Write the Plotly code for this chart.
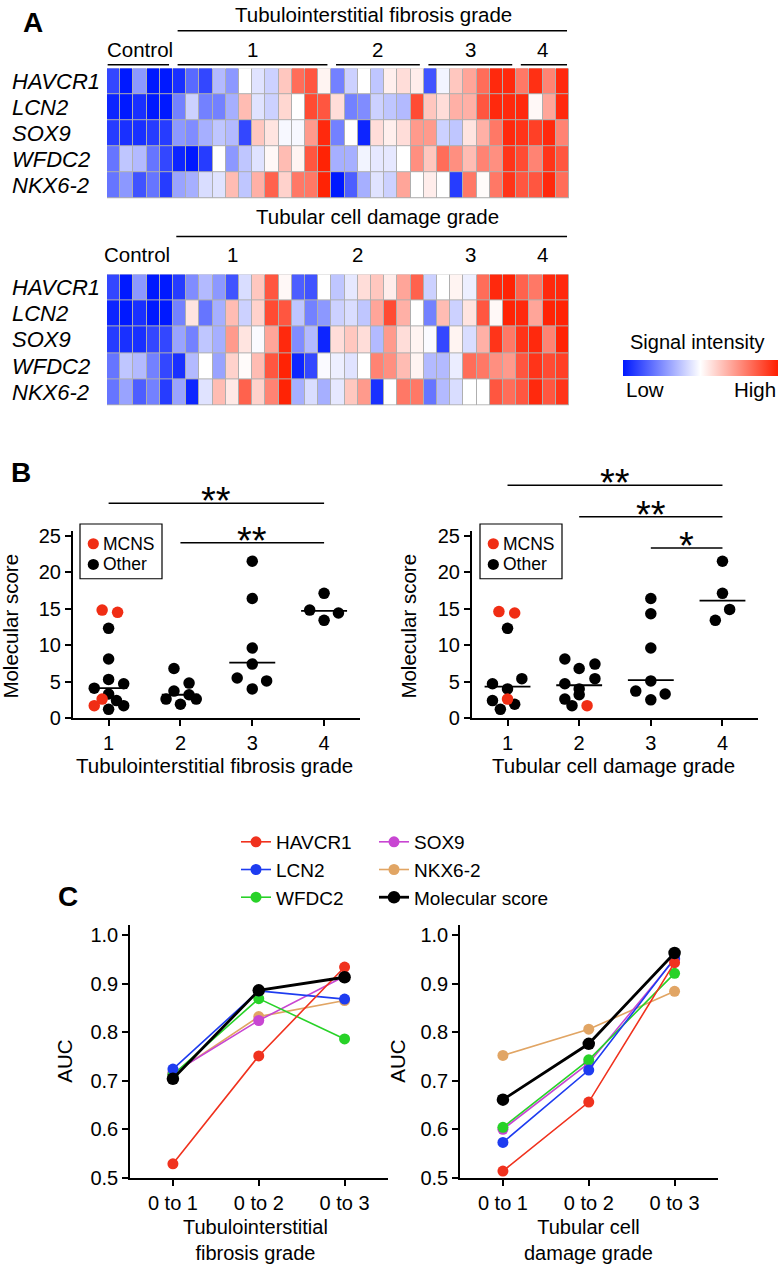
import plotly.graph_objects as go

W, H = 779, 1275
FONT = "Liberation Sans, Arial, sans-serif"

def px(x):
    return x / W

def py(y):
    return 1 - y / H

# ---------------- Panel A data (signal intensity, -1 low .. 1 high) ----------------
genes = ["HAVCR1", "LCN2", "SOX9", "WFDC2", "NKX6-2"]

tif_group_labels = ["Control", "1", "2", "3", "4"]
tif_group_sizes = [5, 12, 7, 7, 4]
tif_HAVCR1 = [-0.8, -1, -0.45, -1, -1, -0.9, -0.65, -0.8, -0.3, -0.45, 0, -0.12, -0.2, 0.25, 0.65, 0.75, 0.05,
              -0.55, -0.2, 0, -0.25, 0.07, 0.15, 0.08, -0.75, -0.05, 0.25, 0.4, 0.65, 0.95, 0.95, 0.6, 0.92, 0.55, 0.95]
tif_LCN2 = [-0.95, -1, -0.9, -1, -1, -0.55, -0.2, -0.55, -0.55, -0.35, 0.3, -0.12, -0.2, 0.18, 0, 0.8, 0.75,
            0.15, -0.55, -0.5, -0.2, -0.25, -0.3, 0.8, 0.25, 0.15, 0.35, 0.35, 0.75, 0.95, 0.95, 0.95, 0.03, 0.4, 0.95]
tif_SOX9 = [-0.85, -0.9, -0.9, -0.85, -0.85, -0.45, -0.5, -0.35, -0.25, -0.3, -0.8, 0.25, 0.12, -0.03, -0.03, 0.45, 0.95,
            -0.55, 0, -0.95, 0.15, 0.07, 0.15, 0.45, 0.45, -0.2, -0.25, 0.12, 0.35, 0.6, 0.95, 0.9, 0.85, 0.95, 0.55]
tif_WFDC2 = [-0.6, -0.25, -0.3, -0.6, -0.8, -0.95, -1, -0.85, 0, -0.45, -0.25, -0.12, 0.03, 0.3, 0.05, 0.75, 0.98,
             -0.35, -0.35, -0.05, -0.1, -0.1, 0, 0.5, 0.25, 0.65, 0.5, 0.3, 0.55, 0.5, 0.9, 0.8, 0.55, 0.9, 0.75]
tif_NKX62 = [-0.6, -0.45, -0.75, -0.6, -0.85, -0.4, -0.35, -0.15, -0.12, 0.3, -0.25, 0.35, 0.7, 0.2, 0.6, 0.6, 0.98,
             -1, -0.7, -0.35, -0.12, -0.2, 0.4, 0, 0.08, 0, -0.85, 0.6, 0.02, 0.6, 0.9, 0.75, 0.75, 0.95, 0.65]

tcd_group_labels = ["Control", "1", "2", "3", "4"]
tcd_group_sizes = [5, 9, 10, 7, 4]
tcd_HAVCR1 = [-0.8, -1, -0.45, -1, -1, -0.85, -0.5, -0.3, -0.45, -0.75, -0.15, 0.25, 0.75, 0.03, -0.7, -0.75, 0, -0.25,
              -0.1, 0.15, 0.25, 0.08, 0.4, 0.7, -0.2, 0, 0.05, -0.07, 0.65, 0.95, 0.98, 0.7, 0.6, 0.95, 0.95]
tcd_LCN2 = [-0.95, -1, -0.9, -1, -1, -0.55, 0.12, -0.6, -0.35, 0.3, -0.2, 0.2, 0.8, 0.75, -0.25, -0.55, -0.45, -0.2,
            -0.15, -0.25, 0.4, 0.8, 0.35, 0, -0.55, 0.3, -0.2, 0.12, 0.75, 0.03, 0.98, 0.95, 0.4, 0.98, 0.98]
tcd_SOX9 = [-0.85, -0.9, -0.9, -0.8, -0.8, -0.4, -0.55, -0.25, -0.35, 0.45, 0.12, -0.02, 0.4, 0.95, -0.5, -0.3, -0.95, 0.15,
            0.25, 0.15, -0.3, 0.45, 0.15, 0.05, -0.02, -0.8, 0.05, -0.15, 0.35, 0.9, 0.6, 0.9, 0.95, 0.55, 0.98]
tcd_WFDC2 = [-0.6, -0.25, -0.3, -0.55, -0.8, -0.9, -0.3, 0, -0.4, 0.2, 0.02, 0.3, 0.75, 0.98, -0.95, -0.8, -0.02, -0.07,
             -0.12, 0, 0.55, 0.5, 0.3, 0.05, -0.3, -0.3, -0.08, 0.65, 0.6, 0.5, 0.45, 0.75, 0.9, 0.8, 0.85]
tcd_NKX62 = [-0.6, -0.4, -0.7, -0.55, -0.85, -0.4, -0.95, -0.12, 0.3, 0.1, 0.7, 0.2, 0.55, 0.98, -0.35, -0.15, -0.35, -0.1,
             0.25, 0.45, -0.9, 0, 0.6, 0.6, -0.6, -0.3, -0.15, 0, 0, 0.75, 0.65, 0.75, 0.95, 0.75, 0.9]

# ---------------- Panel B data (molecular score) ----------------
grades = [1, 2, 3, 4]
tif_score = [
    [14.8, 14.5, 12.3, 8.1, 5.3, 4.7, 4.1, 3.3, 2.6, 2.4, 1.7, 1.7, 1.2],
    [6.8, 4.8, 3.7, 3.2, 2.6, 2.6, 1.9],
    [21.5, 16.4, 9.6, 7.4, 5.5, 5.1, 4.0],
    [17.1, 14.8, 14.4, 13.4],
]
tif_mcns = [
    [1, 1, 0, 0, 0, 0, 0, 0, 1, 0, 1, 0, 0],
    [0, 0, 0, 0, 0, 0, 0],
    [0, 0, 0, 0, 0, 0, 0],
    [0, 0, 0, 0],
]
tif_median = [4.1, 3.2, 7.6, 14.7]

tcd_score = [
    [14.6, 14.4, 12.3, 5.4, 4.7, 4.0, 2.6, 2.4, 1.9, 1.2],
    [8.1, 7.4, 6.8, 5.4, 4.7, 4.0, 3.2, 2.6, 1.7, 1.7],
    [16.4, 14.3, 9.6, 5.1, 3.7, 3.3, 2.5],
    [21.5, 17.1, 14.9, 13.4],
]
tcd_mcns = [
    [1, 1, 0, 0, 0, 0, 1, 0, 0, 0],
    [0, 0, 0, 0, 0, 0, 0, 0, 0, 1],
    [0, 0, 0, 0, 0, 0, 0],
    [0, 0, 0, 0],
]
tcd_median = [4.3, 4.5, 5.2, 16.1]

tif_comparisons = [(1, 4, "**"), (2, 4, "**")]
tcd_comparisons = [(1, 4, "**"), (2, 4, "**"), (3, 4, "*")]

# ---------------- Panel C data (AUC) ----------------
auc_cats = ["0 to 1", "0 to 2", "0 to 3"]
auc_names = ["HAVCR1", "LCN2", "WFDC2", "SOX9", "NKX6-2", "Molecular score"]
tif_auc_HAVCR1 = [0.529, 0.751, 0.934]
tif_auc_LCN2 = [0.724, 0.885, 0.868]
tif_auc_WFDC2 = [0.712, 0.869, 0.786]
tif_auc_SOX9 = [0.716, 0.824, 0.915]
tif_auc_NKX62 = [0.714, 0.832, 0.865]
tif_auc_score = [0.704, 0.886, 0.913]
tcd_auc_HAVCR1 = [0.514, 0.656, 0.943]
tcd_auc_LCN2 = [0.573, 0.722, 0.952]
tcd_auc_WFDC2 = [0.604, 0.743, 0.921]
tcd_auc_SOX9 = [0.600, 0.736, 0.950]
tcd_auc_NKX62 = [0.752, 0.806, 0.884]
tcd_auc_score = [0.661, 0.776, 0.963]

# ---------------- styles (layout only) ----------------
# jitter of dots inside each grade column (beeswarm arrangement)
tif_spread = [
    [-0.09, 0.125, 0, 0, 0, 0.21, -0.2, 0, -0.09, 0.11, -0.2, 0.21, 0],
    [-0.09, 0.12, -0.09, 0.12, -0.2, 0.22, 0],
    [0, 0, 0, 0, -0.21, 0.2, 0],
    [0, -0.2, 0.2, 0],
]
tcd_spread = [
    [-0.12, 0.1, 0, 0.2, -0.21, 0, 0, -0.21, 0.1, -0.1],
    [-0.2, 0.22, 0, 0.22, -0.2, 0, 0, -0.2, -0.1, 0.11],
    [0, 0, 0, 0, -0.21, 0.2, 0],
    [0, 0, 0.1, -0.1],
]
tif_median_half = [0.26, 0.26, 0.32, 0.32]
tcd_median_half = [0.32, 0.32, 0.32, 0.32]
RED_PT = "rgb(240,45,20)"
auc_colors = {
    "HAVCR1": "rgb(240,50,30)",
    "LCN2": "rgb(30,60,240)",
    "WFDC2": "rgb(40,210,40)",
    "SOX9": "rgb(200,70,210)",
    "NKX6-2": "rgb(225,165,100)",
    "Molecular score": "black",
}
heat_cs = [[0, "rgb(0,25,255)"], [0.5, "rgb(255,255,255)"], [1, "rgb(255,30,0)"]]

fig = go.Figure()
annotations = []
shapes = []

def ann(text, x, y, size=20.5, xref="paper", yref="paper", xanchor="center", yanchor="middle", **kw):
    annotations.append(dict(text=text, x=x, y=y, xref=xref, yref=yref, xanchor=xanchor,
                            yanchor=yanchor, showarrow=False,
                            font=dict(family=FONT, size=size, color="black"), **kw))

def hline(x0, x1, y, xref="paper", width=1.5):
    shapes.append(dict(type="line", x0=x0, x1=x1, y0=y, y1=y, xref=xref, yref="paper",
                       line=dict(color="black", width=width)))

# ---------------- Panel A ----------------
def add_heat(rows, xa, ya, show_scale):
    n = len(rows[0])
    fig.add_trace(go.Heatmap(z=rows, x=list(range(n)), y=list(range(len(rows))),
                             colorscale=heat_cs, zmin=-1, zmax=1, xgap=1, ygap=1,
                             showscale=show_scale, xaxis=xa, yaxis=ya, hoverinfo="skip",
                             colorbar=dict(orientation="h", x=px(623), xanchor="left", y=py(359),
                                           yanchor="top", len=155, lenmode="pixels", thickness=16,
                                           thicknessmode="pixels", showticklabels=False, ticks="",
                                           outlinewidth=0, xpad=0, ypad=0)))
    shapes.append(dict(type="rect", xref=xa, yref=ya, x0=-0.5, x1=n - 0.5, y0=-0.5, y1=len(rows) - 0.5,
                       fillcolor="rgb(175,175,175)", line=dict(width=0), layer="below"))
    for i, g in enumerate(genes):
        ann("<i>%s</i>" % g, px(10), i, size=22, yref=ya, xanchor="left")
    return n

n_top = add_heat([tif_HAVCR1, tif_LCN2, tif_SOX9, tif_WFDC2, tif_NKX62], "x", "y", False)
n_bot = add_heat([tcd_HAVCR1, tcd_LCN2, tcd_SOX9, tcd_WFDC2, tcd_NKX62], "x2", "y2", True)

# group labels and underlines (top)
start = 0
for lab, s in zip(tif_group_labels, tif_group_sizes):
    ann(lab, start + (s - 1) / 2, py(44), xref="x")
    x0 = start - 0.5 + (0.05 if start == 0 else 0.35)
    x1 = start + s - 0.5 - (0.15 if start + s == n_top else 0.3)
    hline(x0, x1, py(59.5), xref="x")
    start += s
ann("Tubulointerstitial fibrosis grade", (tif_group_sizes[0] + n_top - 1) / 2 + 0.2, py(9), xref="x")
hline(tif_group_sizes[0] - 0.5 + 0.35, n_top - 0.5 - 0.15, py(25), xref="x")

start = 0
for lab, s in zip(tcd_group_labels, tcd_group_sizes):
    ann(lab, start + (s - 1) / 2 + (0.0 if start else -0.2), py(252), xref="x2")
    start += s
ann("Tubular cell damage grade", 20.0, py(213), xref="x2")
hline(tcd_group_sizes[0] - 0.5 + 0.25, n_bot - 0.5 - 0.15, py(233.5), xref="x2")

ann("Signal intensity", px(697), py(341), size=20)
ann("Low", px(624), py(389), size=20.5, xanchor="left")
ann("High", px(778), py(389), size=20.5, xanchor="right")

# ---------------- Panel B ----------------
def add_scatter(scores, mcns, spread, medians, med_half, xa, ya):
    for flag, color in ((0, "black"), (1, RED_PT)):
        xs, ys = [], []
        for g, sc, mc, sp in zip(grades, scores, mcns, spread):
            for v, m, o in zip(sc, mc, sp):
                if m == flag:
                    xs.append(g + o)
                    ys.append(v)
        fig.add_trace(go.Scatter(x=xs, y=ys, mode="markers", xaxis=xa, yaxis=ya, showlegend=False,
                                 cliponaxis=False, marker=dict(size=11.5, color=color)))
    for g, m, h in zip(grades, medians, med_half):
        fig.add_trace(go.Scatter(x=[g - h, g + h], y=[m, m], mode="lines", xaxis=xa, yaxis=ya,
                                 showlegend=False, line=dict(color="black", width=1.8)))

add_scatter(tif_score, tif_mcns, tif_spread, tif_median, tif_median_half, "x3", "y3")
add_scatter(tcd_score, tcd_mcns, tcd_spread, tcd_median, tcd_median_half, "x4", "y4")

def add_brackets(comps, ypx, xref):
    for (a, b, star), yy in zip(comps, ypx):
        hline(a, b, py(yy), xref=xref)
        ann("*" * len(star), (a + b) / 2, py(yy - 2), size=38, xref=xref, yanchor="middle")

add_brackets(tif_comparisons, [504, 544], "x3")
add_brackets(tcd_comparisons, [485.7, 517.7, 549.3], "x4")

def manual_legend(left, top):
    shapes.append(dict(type="rect", xref="paper", yref="paper", x0=px(left), x1=px(left + 82),
                       y0=py(top + 55.5), y1=py(top), line=dict(color="black", width=1.2)))
    for (lab, col), yy in zip((("MCNS", RED_PT), ("Other", "black")), (top + 20, top + 41)):
        r = 5.6
        shapes.append(dict(type="circle", xref="paper", yref="paper", x0=px(left + 13.3 - r),
                           x1=px(left + 13.3 + r), y0=py(yy + r), y1=py(yy - r),
                           fillcolor=col, line=dict(width=0)))
        ann(lab, px(left + 20.5), py(yy), size=17.5, xanchor="left")

manual_legend(80, 525)
manual_legend(480, 525)

ann("Molecular score", px(11), py(629), textangle=-90)
ann("Molecular score", px(409), py(629), textangle=-90)
ann("Tubulointerstitial fibrosis grade", px(214), py(770))
ann("Tubular cell damage grade", px(613), py(770))

# ---------------- Panel C ----------------
tif_auc = [tif_auc_HAVCR1, tif_auc_LCN2, tif_auc_WFDC2, tif_auc_SOX9, tif_auc_NKX62, tif_auc_score]
tcd_auc = [tcd_auc_HAVCR1, tcd_auc_LCN2, tcd_auc_WFDC2, tcd_auc_SOX9, tcd_auc_NKX62, tcd_auc_score]
draw_order = ["NKX6-2", "SOX9", "WFDC2", "LCN2", "HAVCR1", "Molecular score"]
legend_col = {"HAVCR1": ("legend", 1), "LCN2": ("legend", 2), "WFDC2": ("legend", 3),
              "SOX9": ("legend2", 1), "NKX6-2": ("legend2", 2), "Molecular score": ("legend2", 3)}
for name in draw_order:
    idx = auc_names.index(name)
    black = name == "Molecular score"
    for vals, xa, ya, show in ((tif_auc[idx], "x5", "y5", True), (tcd_auc[idx], "x6", "y6", False)):
        lg, rank = legend_col[name]
        fig.add_trace(go.Scatter(x=auc_cats, y=vals, name=name, mode="lines+markers",
                                 xaxis=xa, yaxis=ya, showlegend=show, legend=lg, legendrank=rank,
                                 cliponaxis=False,
                                 line=dict(color=auc_colors[name], width=2.8 if black else 1.6),
                                 marker=dict(color=auc_colors[name], size=12.5 if black else 11)))

ann("AUC", px(65), py(1070), textangle=-90)
ann("AUC", px(398), py(1070), textangle=-90)
ann("Tubulointerstitial<br>fibrosis grade", px(255), py(1251), size=20)
ann("Tubular cell<br>damage grade", px(588), py(1251), size=20)

# panel letters
ann("<b>A</b>", px(33), py(17), size=28)
ann("<b>B</b>", px(21), py(473), size=28)
ann("<b>C</b>", px(68), py(903), size=28)

# ---------------- axes ----------------
hidden = dict(visible=False, showgrid=False, zeroline=False)
ax_common = dict(showline=True, linecolor="black", linewidth=1.5, ticks="outside", ticklen=6,
                 tickwidth=1.5, tickcolor="black", showgrid=False, zeroline=False,
                 tickfont=dict(family=FONT, size=20, color="black"))

layout = dict(
    width=W, height=H, margin=dict(l=0, r=0, t=0, b=0),
    paper_bgcolor="white", plot_bgcolor="white",
    font=dict(family=FONT, color="black"),
    xaxis=dict(domain=[px(107), px(569)], range=[-0.5, n_top - 0.5], **hidden),
    yaxis=dict(domain=[py(195), py(63)], range=[4.5, -0.5], **hidden),
    xaxis2=dict(domain=[px(107), px(569)], range=[-0.5, n_bot - 0.5], anchor="y2", **hidden),
    yaxis2=dict(domain=[py(405), py(272)], range=[4.5, -0.5], anchor="x2", **hidden),
    xaxis3=dict(domain=[px(72.7), px(360)], range=[0.5, 4.5], anchor="y3", tickvals=grades, **ax_common),
    yaxis3=dict(domain=[py(721.7), py(531.7)], range=[0, 25.7], anchor="x3",
                tickvals=[0, 5, 10, 15, 20, 25], **ax_common),
    xaxis4=dict(domain=[px(471.7), px(758.3)], range=[0.5, 4.5], anchor="y4", tickvals=grades, **ax_common),
    yaxis4=dict(domain=[py(721.7), py(531.7)], range=[0, 25.7], anchor="x4",
                tickvals=[0, 5, 10, 15, 20, 25], **ax_common),
    xaxis5=dict(domain=[px(130), px(387.5)], range=[-0.5, 2.5], anchor="y5", type="category", **ax_common),
    yaxis5=dict(domain=[py(1187.7), py(931.7)], range=[0.5, 1.02], anchor="x5",
                tickvals=[0.5, 0.6, 0.7, 0.8, 0.9, 1.0], tickformat=".1f", **ax_common),
    xaxis6=dict(domain=[px(460), px(717.5)], range=[-0.5, 2.5], anchor="y6", type="category", **ax_common),
    yaxis6=dict(domain=[py(1187.7), py(931.7)], range=[0.5, 1.02], anchor="x6",
                tickvals=[0.5, 0.6, 0.7, 0.8, 0.9, 1.0], tickformat=".1f", **ax_common),
    legend=dict(x=px(236), y=py(828), xanchor="left", yanchor="top", bgcolor="rgba(0,0,0,0)",
                borderwidth=0, itemwidth=30, tracegroupgap=0,
                font=dict(family=FONT, size=19, color="black")),
    legend2=dict(x=px(374), y=py(828), xanchor="left", yanchor="top", bgcolor="rgba(0,0,0,0)",
                 borderwidth=0, itemwidth=30, tracegroupgap=0,
                 font=dict(family=FONT, size=19, color="black")),
    annotations=annotations,
    shapes=shapes,
)
fig.update_layout(**layout)
fig.write_html("out.html", config={"displayModeBar": False},
               post_script="document.body.style.margin='0px';")
